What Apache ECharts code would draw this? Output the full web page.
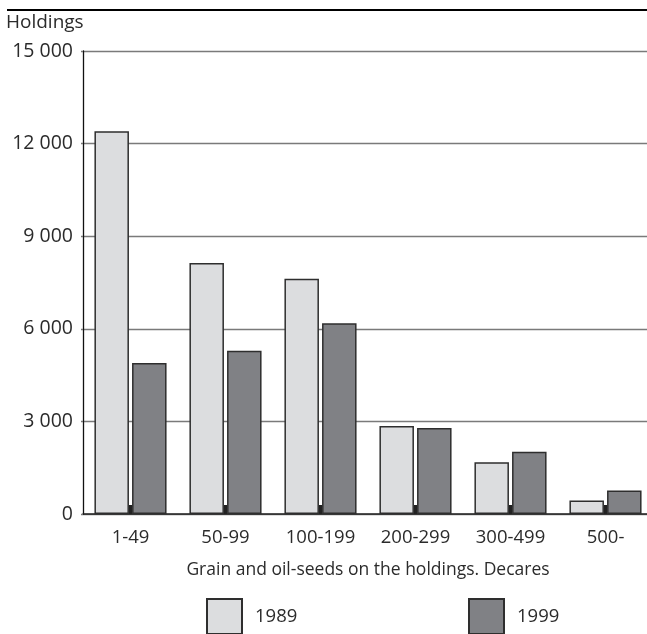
<!DOCTYPE html>
<html>
<head>
<meta charset="utf-8">
<script src="https://cdn.jsdelivr.net/npm/echarts@6/dist/echarts.min.js"></script>
<style>
html,body{margin:0;padding:0;background:#fff;overflow:hidden;width:647px;height:634px;}
#chart{width:653px;height:634px;}
</style>
</head>
<body>
<div id="chart"></div>
<script>
var categories = ['1-49', '50-99', '100-199', '200-299', '300-499', '500-'];
var values1989 = [12400, 8130, 7620, 2850, 1680, 440];
var values1999 = [4890, 5290, 6180, 2790, 2020, 760];
var seriesNames = ['1989', '1999'];
var yTicks = { min: 0, max: 15000, interval: 3000 };
var yAxisTitle = 'Holdings';
var xAxisTitle = 'Grain and oil-seeds on the holdings. Decares';

var FONT = '"Open Sans", "Noto Sans", sans-serif';
var TXT = '#2b2b2b';

var chart = echarts.init(document.getElementById('chart'), null, {renderer: 'canvas'});
var barStyle = function (color) {
  return { color: color, borderColor: '#2e2e2e', borderWidth: 1.5 };
};
chart.setOption({
  animation: false,
  backgroundColor: '#fff',
  textStyle: { fontFamily: FONT },
  graphic: [
    { type: 'line', shape: { x1: 7, y1: 10, x2: 653, y2: 10 }, style: { stroke: '#000', lineWidth: 2 } },
    { type: 'text', left: 6, top: 13, style: { text: yAxisTitle, font: '19px ' + FONT, fill: TXT } }
  ],
  grid: { left: 83, right: 0, top: 51, height: 463, containLabel: false },
  legend: [
    { data: [seriesNames[0]], left: 206, top: 598, itemWidth: 35, itemHeight: 35, padding: 0, icon: 'rect',
      textStyle: { fontSize: 18.5, color: TXT, fontFamily: FONT, padding: [0, 0, 0, 8] } },
    { data: [seriesNames[1]], left: 468, top: 598, itemWidth: 35, itemHeight: 35, padding: 0, icon: 'rect',
      textStyle: { fontSize: 18.5, color: TXT, fontFamily: FONT, padding: [0, 0, 0, 8] } }
  ],
  xAxis: {
    type: 'category',
    data: categories,
    name: xAxisTitle,
    nameLocation: 'middle',
    nameGap: 47,
    nameTextStyle: { fontSize: 17.5, color: TXT, fontFamily: FONT },
    axisLine: { lineStyle: { color: '#222', width: 1.5 } },
    axisTick: { show: true, alignWithLabel: true, inside: true, length: 9, lineStyle: { color: '#222', width: 3 } },
    axisLabel: { fontSize: 18.5, color: TXT, margin: 14, fontFamily: FONT },
    splitLine: { show: false }
  },
  yAxis: {
    type: 'value',
    min: yTicks.min, max: yTicks.max, interval: yTicks.interval,
    axisLine: { show: true, lineStyle: { color: '#111', width: 1.3 } },
    axisTick: { show: true, length: 2, lineStyle: { color: '#777', width: 1.3 } },
    axisLabel: {
      fontSize: 19.5, color: TXT, margin: 10, fontFamily: FONT,
      formatter: function (v) { return String(v).replace(/\B(?=(\d{3})+(?!\d))/g, ' '); }
    },
    splitLine: { show: true, lineStyle: { color: '#7a7a7a', width: 1.3 } }
  },
  series: [
    { name: seriesNames[0], type: 'bar', data: values1989, barWidth: 34.5, barGap: '9%', itemStyle: barStyle('#dcdddf') },
    { name: seriesNames[1], type: 'bar', data: values1999, barWidth: 34.5, barGap: '9%', itemStyle: barStyle('#808185') }
  ]
});
</script>
</body>
</html>
